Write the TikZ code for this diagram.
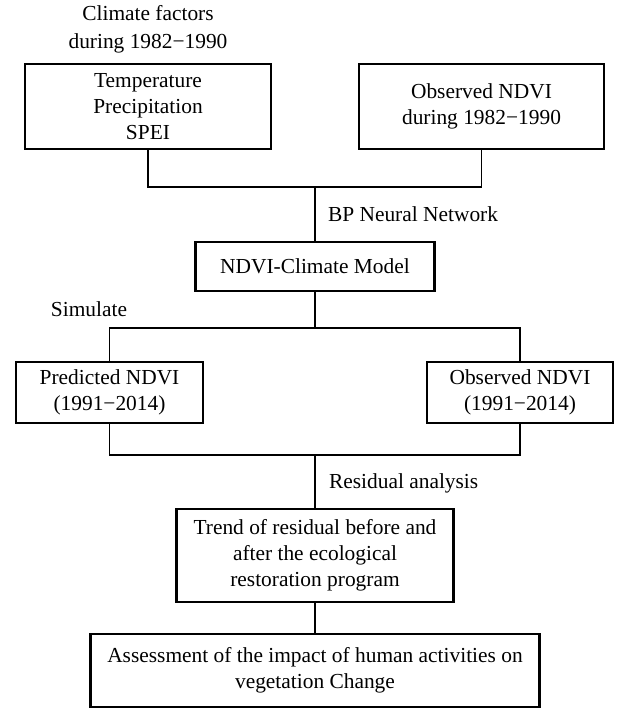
\documentclass[tikz,border=0pt]{standalone}
\usepackage{fontspec}
\setmainfont{Liberation Serif}
\begin{document}
\begin{tikzpicture}[x=0.5pt,y=-0.5pt,
        font=\fontsize{10.7}{13}\selectfont,
        box/.style={draw,line width=1.2pt,inner sep=0pt,align=center},
        link/.style={line width=0.65pt}]
        \useasboundingbox (0,0) rectangle (617,708);

        % Training inputs
        \node[align=center,font=\fontsize{10.7}{14}\selectfont] (climlabel) at (148,29) {Climate factors\\during 1982−1990};
        \node[box,minimum width=123pt,minimum height=42.5pt] (clim) at (148,106.5) {Temperature\\Precipitation\\SPEI};
        \node[box,minimum width=122.5pt,minimum height=42.5pt] (obsold) at (481.5,106.5) {Observed NDVI\\during 1982−1990};

        \coordinate (jtrain) at (315,187);
        \draw[link] (clim.south) |- (jtrain) -| (obsold.south);

        % Model
        \node[box,minimum width=119.5pt,minimum height=24.5pt] (model) at (315,266.5) {NDVI-Climate Model};
        \draw[link] (jtrain) -- (model.north);
        \node[anchor=west] (bplabel) at (321,214) {BP Neural Network};

        % Simulation
        \node (simlabel) at (89,309) {Simulate};
        \node[box,minimum width=93.5pt,minimum height=30.5pt] (pred) at (109.5,392.5) {Predicted NDVI\\(1991−2014)};
        \node[box,minimum width=93pt,minimum height=30.5pt] (obsnew) at (520,392.5) {Observed NDVI\\(1991−2014)};

        \coordinate (jsim) at (315,328);
        \draw[link] (model.south) -- (jsim);
        \draw[link] (pred.north) |- (jsim) -| (obsnew.north);

        % Residuals
        \coordinate (jres) at (315,455);
        \draw[link] (pred.south) |- (jres) -| (obsnew.south);
        \node[anchor=west] (reslabel) at (322,483) {Residual analysis};
        \node[box,minimum width=138.5pt,minimum height=46.5pt] (trend) at (315,555.5) {Trend of residual before and\\after the ecological\\restoration program};
        \draw[link] (jres) -- (trend.north);

        % Assessment
        \node[box,minimum width=224.5pt,minimum height=36.5pt] (assess) at (315,670.5) {Assessment of the impact of human activities on\\vegetation Change};
        \draw[link] (trend.south) -- (assess.north);
    \end{tikzpicture}
\end{document}
